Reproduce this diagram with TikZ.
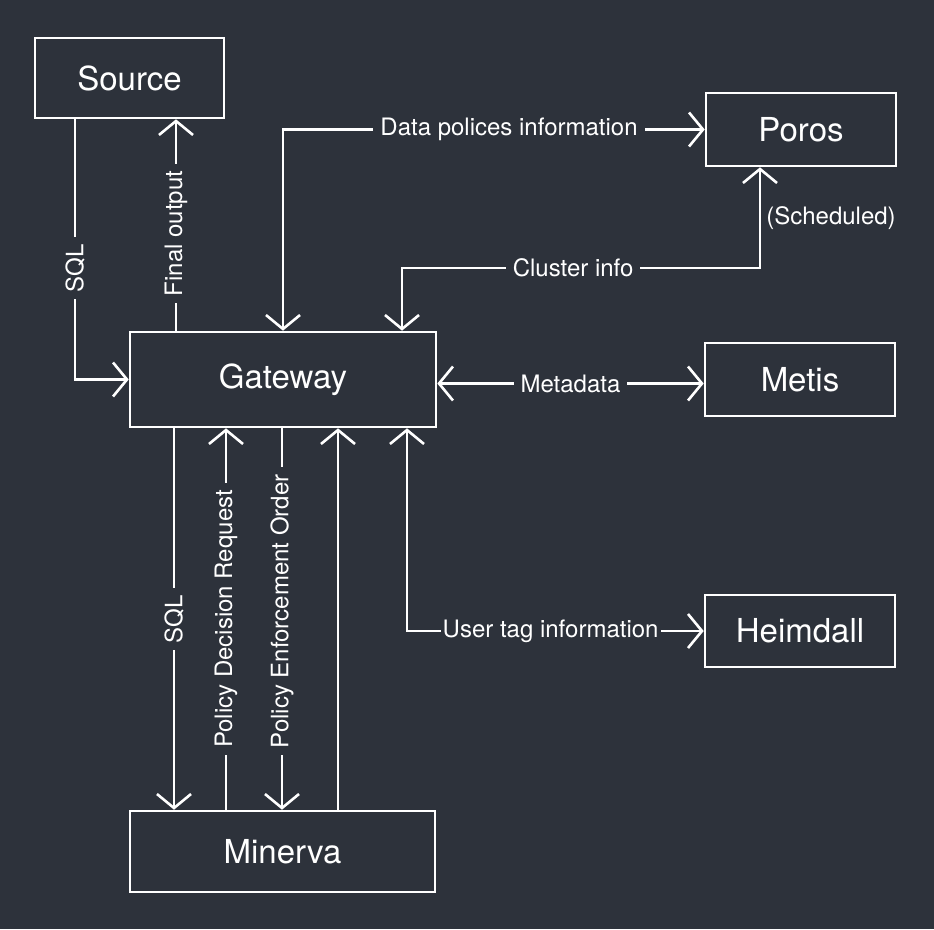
\documentclass[tikz,border=0pt]{standalone}
\usepackage{fontspec}
\setmainfont{TeX Gyre Heros}
\usetikzlibrary{arrows.meta}
\definecolor{bg}{HTML}{2D323B}
\begin{document}
\begin{tikzpicture}[x=1pt,y=-1pt,line width=2.6pt,white,
  box/.style={draw=white,inner sep=0pt,text=white,font=\fontsize{33}{38}\selectfont},
  lab/.style={fill=bg,text=white,inner xsep=7pt,inner ysep=2pt,font=\fontsize{24}{28}\selectfont},
  arr/.style={-{Straight Barb[length=14pt,width=34pt]}},
  arrb/.style={{Straight Barb[length=14pt,width=34pt]}-{Straight Barb[length=14pt,width=34pt]}}]
\fill[bg] (0,0) rectangle (934,929);
\useasboundingbox (0,0) rectangle (934,929);
% boxes
\node[box,minimum width=189pt,minimum height=80pt] (source) at (129.5,78) {Source};
\node[box,minimum width=306pt,minimum height=95pt] (gateway) at (283,379.5) {Gateway};
\node[box,minimum width=190pt,minimum height=73pt] (poros) at (801,129.5) {Poros};
\node[box,minimum width=190pt,minimum height=73pt] (metis) at (800,379.5) {Metis};
\node[box,minimum width=190pt,minimum height=72pt] (heimdall) at (800,631) {Heimdall};
\node[box,minimum width=305pt,minimum height=81pt] (minerva) at (282.5,851.5) {Minerva};
% helper coordinates
\coordinate (c1) at (75,0);
\coordinate (c2) at (176,0);
\coordinate (c3) at (283,0);
\coordinate (c4a) at (402,268);
\coordinate (c4b) at (760,268);
\coordinate (c5) at (407,632);
\coordinate (d1) at (174,0);
\coordinate (d2) at (226,0);
\coordinate (d3) at (282,0);
\coordinate (d4) at (338,0);
% connectors
\draw[arr] (source.south -| c1) |- node[lab,rotate=90,pos=0.286]{SQL} (gateway.west);
\draw[arr] (gateway.north -| c2) -- node[lab,rotate=90,pos=0.46]{Final output} (source.south -| c2);
\draw[arrb] (gateway.north -| c3) |- node[lab,pos=0.768]{Data polices information} (poros.west);
\draw[arrb] (gateway.north -| c4a) -- (c4a) -- node[lab,pos=0.478]{Cluster info} (c4b) -- (poros.south -| c4b);
\node[lab,fill=none,inner sep=0pt] (sched) at (831,218) {(Scheduled)};
\draw[arrb] ([yshift=-4pt]gateway.east) -- node[lab]{Metadata} ([yshift=-4pt]metis.west);
\draw[arrb] (gateway.south -| c5) |- node[lab,inner xsep=2pt,pos=0.742]{User tag information} (heimdall.west);
\draw[arr] (gateway.south -| d1) -- node[lab,rotate=90]{SQL} (minerva.north -| d1);
\draw[arr] (minerva.north -| d2) -- node[lab,rotate=90]{Policy Decision Request} (gateway.south -| d2);
\draw[arr] (gateway.south -| d3) -- node[lab,rotate=90,pos=0.48]{Policy Enforcement Order} (minerva.north -| d3);
\draw[arr] (minerva.north -| d4) -- (gateway.south -| d4);
\end{tikzpicture}
\end{document}
